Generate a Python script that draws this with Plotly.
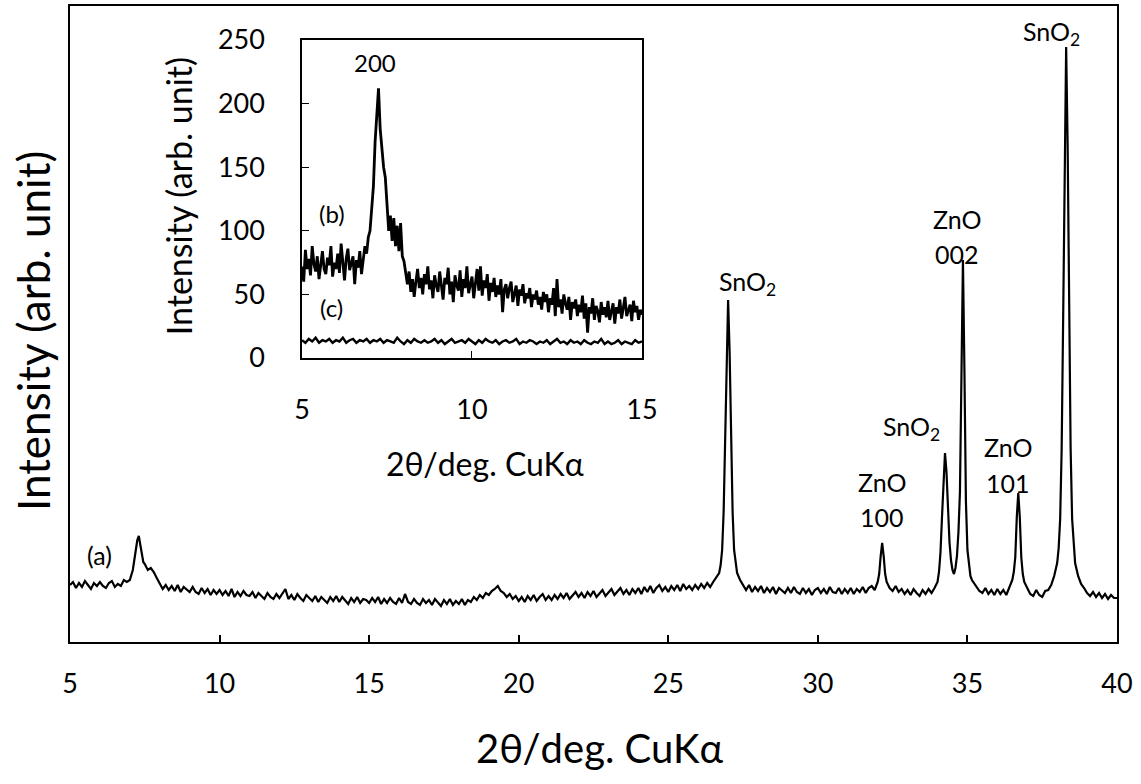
import numpy as np
import plotly.graph_objects as go

FONT = "Lato"

# ---------------- main pattern (a): 2theta 5-40 deg, coarse 0.1 deg grid ----------------
main_x_coarse = np.round(np.arange(5.0, 40.0001, 0.1), 2)
main_y_coarse = [
    57, 60, 54, 59, 55, 61, 57, 53, 59, 56,   # 5.x
    60, 56, 54, 59, 61, 55, 58, 56, 62, 60,   # 6.x
    62, 72, 92, 106, 88, 78, 72, 74, 70, 64,  # 7.x
    58, 53, 57, 52, 56, 51, 57, 50, 55, 52,   # 8.x
    50, 55, 50, 48, 54, 49, 53, 47, 52, 48,   # 9.x
    52, 47, 51, 46, 53, 45, 50, 46, 51, 47,   # 10.x
    46, 50, 44, 49, 46, 43, 49, 45, 43, 48,   # 11.x
    44, 48, 53, 43, 47, 42, 48, 44, 41, 47,   # 12.x
    44, 41, 46, 40, 45, 42, 39, 45, 41, 46,   # 13.x
    40, 45, 41, 38, 44, 40, 45, 39, 43, 42,   # 14.x
    39, 44, 40, 45, 38, 43, 39, 44, 40, 38,   # 15.x
    44, 39, 48, 40, 38, 43, 39, 37, 43, 39,   # 16.x
    42, 37, 43, 39, 36, 42, 38, 43, 37, 41,   # 17.x
    38, 43, 37, 42, 40, 45, 42, 47, 44, 49,   # 18.x
    47, 51, 53, 56, 51, 49, 45, 48, 43, 46,   # 19.x
    41, 45, 40, 46, 42, 47, 41, 45, 48, 42,   # 20.x
    46, 42, 47, 43, 48, 44, 49, 43, 47, 50,   # 21.x
    45, 49, 44, 50, 46, 51, 45, 49, 52, 46,   # 22.x
    50, 53, 47, 51, 54, 48, 52, 47, 53, 49,   # 23.x
    54, 48, 55, 50, 56, 49, 54, 57, 51, 55,   # 24.x
    50, 56, 52, 57, 51, 58, 53, 56, 52, 57,   # 25.x
    53, 58, 54, 59, 55, 60, 64, 69, 92, 198,  # 26.x
    342, 198, 92, 69, 62, 57, 52, 57, 50, 55, # 27.x
    51, 56, 49, 54, 50, 55, 48, 54, 51, 49,   # 28.x
    54, 49, 55, 50, 48, 54, 49, 53, 47, 52,   # 29.x
    54, 49, 53, 48, 55, 50, 49, 54, 48, 53,   # 30.x
    49, 54, 48, 53, 50, 55, 49, 54, 56, 52,   # 31.x
    60, 86, 86, 60, 54, 51, 56, 50, 53, 48,   # 32.x
    52, 47, 53, 49, 46, 52, 48, 53, 49, 54,   # 33.x
    60, 90, 165, 170, 100, 72, 74, 110, 280, 270,  # 34.x
    92, 66, 60, 56, 51, 49, 54, 48, 52, 47,   # 35.x
    53, 48, 52, 47, 54, 62, 85, 149, 85, 60,  # 36.x
    54, 48, 46, 52, 47, 45, 51, 52, 57, 66,   # 37.x
    79, 123, 323, 595, 323, 123, 79, 66, 58, 54,   # 38.x
    49, 46, 50, 45, 49, 44, 48, 43, 47, 44,   # 39.x
    44,                                       # 40.0
]

# extra points on the peaks (0.05 deg offsets)
main_x_fine = [7.15, 7.25, 7.35, 7.45,
               26.75, 26.85, 26.95, 27.05, 27.15, 27.25,
               32.05, 32.15, 32.25,
               34.05, 34.15, 34.25, 34.35, 34.45, 34.55, 34.65, 34.75, 34.85, 34.95, 35.05, 35.15,
               36.55, 36.65, 36.75, 36.85,
               38.05, 38.15, 38.25, 38.35, 38.45, 38.55]
main_y_fine = [82, 102, 98, 80,
               77, 130, 290, 290, 130, 77,
               68, 99, 68,
               70, 125, 189, 130, 82, 68, 86, 150, 382, 140, 76, 62,
               70, 125, 125, 68,
               94, 193, 497, 497, 193, 94]

# ---------------- inset: pattern (b), 0.05 deg grid 5-15 ----------------
inset_b_x = np.round(np.arange(5.0, 15.0001, 0.05), 2)
inset_b_y = [
    72, 60, 85, 70, 78, 65, 88, 74, 68, 80, 62, 76, 84, 70, 66, 79, 73, 88, 64, 75,          # 5
    70, 82, 67, 90, 72, 61, 78, 86, 69, 74, 80, 58, 77, 71, 84, 66, 79, 88, 82, 95,          # 6
    100, 122, 135, 170, 195, 212, 180, 162, 150, 142, 120, 100, 112, 92, 110, 88, 104, 84, 106, 80,  # 7
    76, 66, 58, 68, 52, 62, 48, 60, 70, 55, 63, 50, 66, 58, 72, 54, 61, 47, 65, 57,          # 8
    52, 68, 56, 46, 63, 58, 71, 50, 60, 44, 65, 57, 53, 69, 48, 62, 55, 72, 51, 59,          # 9
    64, 47, 58, 70, 53, 72, 49, 61, 55, 66, 45, 59, 52, 63, 48, 57, 50, 62, 36, 54,          # 10
    58, 47, 55, 60, 44, 52, 57, 41, 54, 49, 58, 43, 51, 47, 55, 40, 50, 46, 53, 42,          # 11
    48, 38, 52, 44, 50, 36, 47, 42, 55, 33, 62, 40, 46, 35, 50, 43, 38, 48, 30, 44,          # 12
    39, 46, 33, 42, 36, 49, 31, 43, 20, 40, 35, 47, 30, 41, 37, 28, 44, 34, 40, 32,          # 13
    45, 30, 38, 43, 27, 40, 35, 46, 31, 39, 48, 33, 37, 42, 29, 45, 36, 41, 30, 38,          # 14
    34,                                                                                      # 15.0
]

# ---------------- inset: pattern (c), 0.1 deg grid 5-15 ----------------
inset_c_x = np.round(np.arange(5.0, 15.0001, 0.1), 2)
inset_c_y = [
    14, 12, 15, 13, 16, 12, 14, 13, 15, 12,
    14, 13, 16, 12, 14, 15, 12, 14, 13, 15,
    12, 14, 13, 15, 12, 14, 13, 12, 16, 13,
    11, 14, 12, 15, 13, 12, 14, 12, 13, 15,
    12, 14, 11, 13, 15, 12, 13, 14, 12, 15,
    13, 11, 14, 12, 15, 13, 12, 14, 11, 13,
    14, 12, 13, 15, 11, 13, 12, 14, 13, 11,
    13, 12, 14, 11, 13, 15, 12, 13, 11, 14,
    12, 13, 11, 14, 12, 11, 13, 12, 15, 11,
    13, 11, 12, 14, 11, 13, 12, 11, 14, 12,
    13,
]

main_ticks = [5, 10, 15, 20, 25, 30, 35, 40]
inset_xticks = [5, 10, 15]
inset_yticks = [0, 50, 100, 150, 200, 250]

# peak labels in main-axis data coordinates
peak_labels = [
    ("SnO<sub>2</sub>", 27.65, 359),
    ("ZnO", 32.13, 160), ("100", 32.13, 125),
    ("SnO<sub>2</sub>", 33.13, 214),
    ("ZnO", 34.64, 423), ("002", 34.64, 388),
    ("ZnO", 36.34, 195), ("101", 36.34, 159),
    ("SnO<sub>2</sub>", 37.81, 609),
    ("(a)", 5.97, 87),
]
inset_labels = [
    ("200", 7.15, 232),
    ("(b)", 5.88, 114),
    ("(c)", 5.88, 40),
]

# merge coarse and fine points of the main pattern
mx = np.concatenate([main_x_coarse, np.array(main_x_fine)])
my = np.concatenate([np.array(main_y_coarse, dtype=float), np.array(main_y_fine, dtype=float)])
order = np.argsort(mx, kind="stable")
mx, my = mx[order], my[order]

fig = go.Figure()
fig.add_trace(go.Scatter(x=mx, y=my, mode="lines", line=dict(color="black", width=2.2),
                         xaxis="x", yaxis="y", showlegend=False, hoverinfo="skip"))
fig.add_trace(go.Scatter(x=inset_b_x, y=inset_b_y, mode="lines", line=dict(color="black", width=2.8),
                         xaxis="x2", yaxis="y2", showlegend=False, hoverinfo="skip"))
fig.add_trace(go.Scatter(x=inset_c_x, y=inset_c_y, mode="lines", line=dict(color="black", width=2.4),
                         xaxis="x2", yaxis="y2", showlegend=False, hoverinfo="skip"))

axis_common = dict(showgrid=False, zeroline=False, showline=True, linecolor="black",
                   mirror=True, tickcolor="black", automargin=False)

fig.update_layout(
    template="none",
    width=1141, height=784, autosize=False,
    margin=dict(l=70, r=24, t=6, b=142, pad=0, autoexpand=False),
    paper_bgcolor="white", plot_bgcolor="white",
    font=dict(family=FONT, color="black"),
    xaxis=dict(domain=[0, 1], range=[5, 40], tickvals=main_ticks, ticks="inside", ticklen=7,
               tickwidth=1.5, linewidth=1.5, tickfont=dict(size=27, family=FONT),
               ticklabelstandoff=17, **axis_common),
    yaxis=dict(domain=[0, 1], range=[0, 636], showticklabels=False, ticks="",
               linewidth=1.5, **axis_common),
    xaxis2=dict(domain=[0.2216, 0.5463], anchor="y2", range=[5, 15], tickvals=inset_xticks,
                ticks="inside", ticklen=7, tickwidth=1.2, linewidth=1.5,
                tickfont=dict(size=27, family=FONT), ticklabelstandoff=27, **axis_common),
    yaxis2=dict(domain=[0.4465, 0.9465], anchor="x2", range=[0, 250], tickvals=inset_yticks,
                ticks="inside", ticklen=7, tickwidth=1.2, linewidth=1.5,
                tickfont=dict(size=27, family=FONT), ticklabelstandoff=30, **axis_common),
)

annotations = []
for txt, x, y in peak_labels:
    annotations.append(dict(text=txt, x=x, y=y, xref="x", yref="y", showarrow=False,
                            font=dict(size=25, family=FONT), xanchor="center", yanchor="middle"))
for txt, x, y in inset_labels:
    annotations.append(dict(text=txt, x=x, y=y, xref="x2", yref="y2", showarrow=False,
                            font=dict(size=24, family=FONT), xanchor="center", yanchor="middle"))
# axis titles
annotations += [
    dict(text="2θ/deg. CuKα", x=0.506, y=-0.166, xref="paper", yref="paper", showarrow=False,
         font=dict(size=40, family=FONT), xanchor="center", yanchor="middle"),
    dict(text="Intensity (arb. unit)", x=-0.0353, y=0.489, xref="paper", yref="paper",
         showarrow=False, textangle=-90, font=dict(size=44, family=FONT),
         xanchor="center", yanchor="middle"),
    dict(text="2θ/deg. CuKα", x=0.396, y=0.280, xref="paper", yref="paper", showarrow=False,
         font=dict(size=32, family=FONT), xanchor="center", yanchor="middle"),
    dict(text="Intensity (arb. unit)", x=0.1032, y=0.701, xref="paper", yref="paper",
         showarrow=False, textangle=-90, font=dict(size=34, family=FONT),
         xanchor="center", yanchor="middle"),
]
fig.update_layout(annotations=annotations)

fig.write_html("out.html", config={"displayModeBar": False},
               post_script="document.body.style.margin='0px';document.body.style.overflow='hidden';")
